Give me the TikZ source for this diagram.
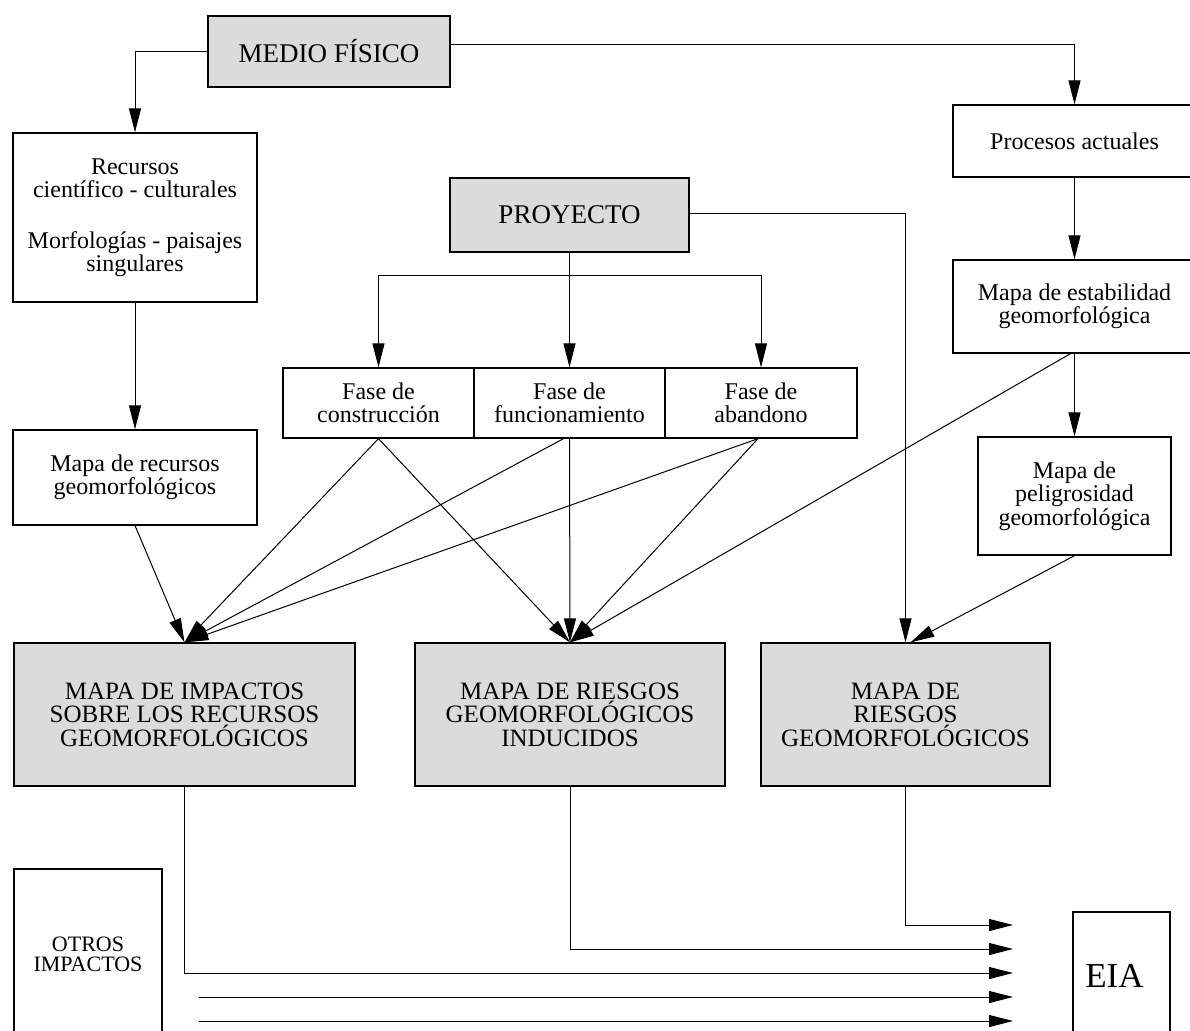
\documentclass[tikz,border=0pt]{standalone}
\usepackage{fontspec}
\setmainfont{Liberation Serif}
\usetikzlibrary{positioning,arrows.meta}

\begin{document}
\begin{tikzpicture}[x=1pt, y=-1pt, node distance=100pt, on grid, line width=1pt,
	box/.style={draw, line width=1.3pt, align=center, inner sep=0pt, font=\fontsize{24}{23.5}\selectfont},
	greybox/.style={box, fill=black!14, font=\fontsize{25}{23.5}\selectfont},
	bigtext/.style={font=\fontsize{27}{28}\selectfont},
	arr/.style={-{Triangle[length=24pt, width=12pt]}}]
	\useasboundingbox (0,0) rectangle (1190,1030);
	
	\node[greybox, bigtext, minimum width=242pt, minimum height=71pt](medio) at (329,51.5){MEDIO FÍSICO};
	\node[box, minimum width=244pt, minimum height=169pt](recursos) at (135,217.5){Recursos\\científico - culturales\\[27pt]Morfologías - paisajes\\singulares};
	\node[box, minimum width=244pt, minimum height=95pt, below = 260pt of recursos](mrecursos){Mapa de recursos\\geomorfológicos};
	
	\node[greybox, bigtext, minimum width=239pt, minimum height=74pt](proyecto) at (569.5,215){PROYECTO};
	\node[box, minimum width=191pt, minimum height=70pt](ffunc) at (569.5,403){Fase de\\funcionamiento};
	\node[box, minimum width=191pt, minimum height=70pt, left = 191pt of ffunc](fconst){Fase de\\construcción};
	\node[box, minimum width=192pt, minimum height=70pt, right = 191.5pt of ffunc](faband){Fase de\\abandono};
	
	\node[box, minimum width=243pt, minimum height=72pt](procesos) at (1074.5,141){Procesos actuales};
	\node[box, minimum width=243pt, minimum height=93pt, below = 165.5pt of procesos](estab){Mapa de estabilidad\\geomorfológica};
	\node[box, minimum width=193pt, minimum height=118pt, below = 189.5pt of estab](pelig){Mapa de\\peligrosidad\\geomorfológica};
	
	\node[greybox, minimum width=341pt, minimum height=143pt](impactos) at (184.5,714.5){MAPA DE IMPACTOS\\SOBRE LOS RECURSOS\\GEOMORFOLÓGICOS};
	\node[greybox, minimum width=310pt, minimum height=143pt, right = 385.5pt of impactos](inducidos){MAPA DE RIESGOS\\GEOMORFOLÓGICOS\\INDUCIDOS};
	\node[greybox, minimum width=289pt, minimum height=143pt, right = 335.5pt of inducidos](riesgos){MAPA DE\\RIESGOS\\GEOMORFOLÓGICOS};
	
	\node[box, font=\fontsize{22}{20.5}\selectfont, minimum width=148pt, minimum height=171pt](otros) at (88,954.5){OTROS\\IMPACTOS};
	\node[box, font=\fontsize{35}{36}\selectfont, minimum width=97pt, minimum height=128pt](eia) at (1121.5,976){EIA\hspace*{14pt}};
	
	\coordinate (bar) at (569.5,275);
	\coordinate (in1) at (1013,925);
	\coordinate (in2) at (1013,949);
	\coordinate (in3) at (1013,973);
	\coordinate (in4) at (1013,997);
	\coordinate (in5) at (1013,1021);
	\coordinate (o1) at (199,997);
	\coordinate (o2) at (199,1021);
	
	\draw[arr] (medio.west) -| (recursos.north);
	\draw[arr] ([yshift=6.5pt]medio.east) -| (procesos.north);
	\path[arr] (procesos) edge (estab)
	(estab) edge (pelig)
	(recursos) edge (mrecursos)
	(proyecto) edge (ffunc);
	\draw (fconst.north |- bar) -- (faband.north |- bar);
	\path[arr] (fconst.north |- bar) edge (fconst.north)
	(faband.north |- bar) edge (faband.north);
	\draw[arr] ([yshift=2pt]proyecto.east) -| (riesgos.north);
	
	\path[arr] (mrecursos.south) edge (impactos.north)
	(fconst.south) edge (impactos.north)
	([xshift=-6pt]ffunc.south) edge (impactos.north)
	([xshift=-3pt]faband.south) edge (impactos.north);
	\path[arr] (fconst.south) edge (inducidos.north)
	(ffunc.south) edge (inducidos.north)
	([xshift=-3pt]faband.south) edge (inducidos.north)
	([xshift=-4pt]estab.south) edge (inducidos.north);
	\path[arr] (pelig.south) edge ([xshift=5pt]riesgos.north);
	
	\draw[arr] (riesgos.south) |- (in1);
	\draw[arr] (inducidos.south) |- (in2);
	\draw[arr] (impactos.south) |- (in3);
	\draw[arr] (o1) -- (in4);
	\draw[arr] (o2) -- (in5);
\end{tikzpicture}
\end{document}
